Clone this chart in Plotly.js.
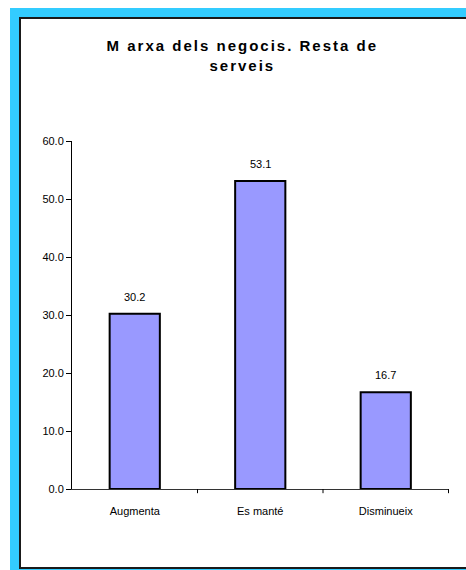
<!DOCTYPE html>
<html>
<head>
<meta charset="utf-8">
<script src="https://cdn.plot.ly/plotly-3.0.1.min.js"></script>
<style>
  html, body { margin: 0; padding: 0; background: #ffffff; overflow: hidden; width: 466px; height: 570px; }
  .blk { position: absolute; }
  #frame { left: 10px; top: 8px; width: 456px; height: 562px; background: #33CCFF; }
  #panel { left: 19px; top: 17px; width: 447px; height: 552px; background: #ffffff; }
  #bTop { left: 19px; top: 17px; width: 447px; height: 2px; background: #1a1a1a; }
  #bLeft { left: 19px; top: 17px; width: 2px; height: 552px; background: #1a1a1a; }
  #bBot { left: 19px; top: 567px; width: 447px; height: 2px; background: #1a1a1a; }
  #chart { position: absolute; left: 0; top: 0; width: 466px; height: 570px; }
  #chart .gtitle { letter-spacing: 2px; }
</style>
</head>
<body>
<div id="frame" class="blk"></div>
<div id="panel" class="blk"></div>
<div id="bTop" class="blk"></div>
<div id="bLeft" class="blk"></div>
<div id="bBot" class="blk"></div>
<div id="chart"></div>
<script>
const categories = ["Augmenta", "Es manté", "Disminueix"];
const values = [30.2, 53.1, 16.7];
const valueLabels = ["30.2", "53.1", "16.7"];
const yTickValues = [0, 10, 20, 30, 40, 50, 60];
const yTickLabels = ["0.0", "10.0", "20.0", "30.0", "40.0", "50.0", "60.0"];
const chartTitle = "<b>M arxa dels negocis. Resta de<br>serveis</b>";

const font = "Arial, Liberation Sans, sans-serif";

const trace = {
  type: "bar",
  x: categories,
  y: values,
  width: 0.4,
  marker: { color: "#9999FF", line: { color: "#000000", width: 2 } },
  hoverinfo: "none"
};

const layout = {
  width: 466,
  height: 570,
  paper_bgcolor: "rgba(0,0,0,0)",
  plot_bgcolor: "rgba(0,0,0,0)",
  margin: { l: 72, r: 17, t: 141, b: 81 },
  showlegend: false,
  title: {
    text: chartTitle,
    x: 0.52,
    xanchor: "center",
    y: 0.91,
    yanchor: "top",
    font: { family: font, size: 15, color: "#000000" }
  },
  xaxis: {
    type: "category",
    showline: true,
    linecolor: "#333333",
    linewidth: 1,
    ticks: "",
    showgrid: false,
    ticklabelstandoff: 12,
    tickfont: { family: font, size: 11, color: "#000000" },
    zeroline: false
  },
  yaxis: {
    range: [0, 60],
    tickvals: yTickValues,
    ticktext: yTickLabels,
    ticks: "outside",
    ticklen: 5,
    tickcolor: "#000000",
    showline: true,
    linecolor: "#000000",
    linewidth: 1,
    showgrid: false,
    zeroline: false,
    tickfont: { family: font, size: 11, color: "#000000" }
  },
  annotations: categories.map((c, i) => ({
    x: c, y: values[i], xref: "x", yref: "y",
    text: valueLabels[i], showarrow: false,
    yanchor: "bottom", yshift: 9,
    font: { family: font, size: 11, color: "#000000" }
  })),
  shapes: [0.5, 1.5, 2.5].map(v => ({
    type: "line", xref: "x", yref: "paper",
    x0: v, x1: v, y0: 0, y1: -0.012,
    line: { color: "#000000", width: 1 }
  }))
};

Plotly.newPlot("chart", [trace], layout, { staticPlot: true, displayModeBar: false });
</script>
</body>
</html>
